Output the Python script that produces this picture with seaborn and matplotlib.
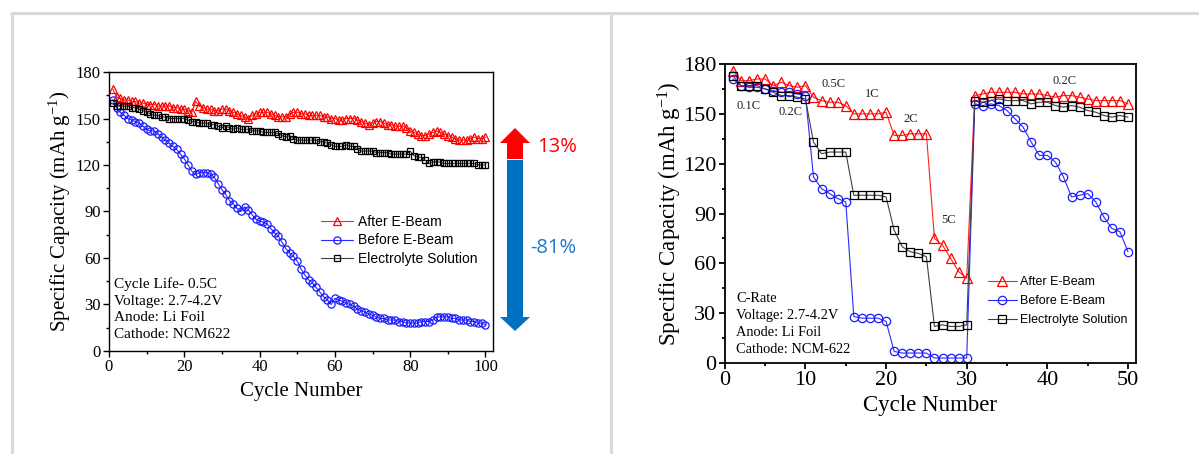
import matplotlib
matplotlib.use("Agg")
import matplotlib.pyplot as plt
import seaborn as sns
from matplotlib.patches import FancyArrow
from matplotlib.lines import Line2D
from matplotlib.transforms import IdentityTransform
from matplotlib.ticker import MultipleLocator

# ---- cycle life data (0.5C, 100 cycles) ----
cycles_life = list(range(1, 101))
after_life = [169, 164, 163, 162, 162, 161, 161, 160, 160, 159,
              159, 159, 158, 158, 158, 158, 157, 157, 156, 156,
              155, 154, 161, 158, 157, 156, 156, 155, 155, 156,
              156, 155, 154, 153, 152, 151, 150, 152, 153, 154,
              154, 154, 153, 152, 151, 151, 151, 153, 154, 154,
              153, 153, 152, 152, 152, 152, 151, 151, 150, 150,
              149, 149, 150, 150, 150, 149, 148, 147, 146, 147,
              148, 148, 147, 146, 146, 145, 145, 145, 144, 142,
              141, 140, 139, 139, 140, 141, 142, 141, 140, 139,
              138, 137, 136, 136, 136, 137, 138, 137, 137, 138]
before_life = [162, 157, 154, 152, 150, 149, 148, 147, 145, 143,
               142, 142, 140, 138, 136, 134, 132, 130, 127, 124,
               120, 116, 114, 115, 115, 115, 114, 112, 108, 104,
               101, 97, 95, 92, 90, 93, 91, 88, 85, 84,
               83, 82, 79, 76, 74, 70, 66, 63, 61, 58,
               53, 49, 46, 44, 41, 38, 35, 33, 30, 34,
               33, 32, 31, 30, 29, 27, 26, 25, 24, 23,
               22, 21, 21, 20, 20, 20, 19, 19, 18, 18,
               18, 18, 19, 19, 19, 20, 22, 22, 22, 22,
               21, 21, 20, 20, 20, 19, 19, 18, 18, 17]
electrolyte_life = [160, 158, 158, 158, 158, 157, 157, 156, 155, 154,
                    153, 152, 152, 151, 151, 150, 150, 150, 150, 150,
                    149, 148, 148, 147, 147, 147, 146, 146, 145, 144,
                    145, 144, 143, 144, 143, 143, 143, 142, 142, 142,
                    141, 141, 141, 141, 140, 139, 138, 139, 137, 136,
                    136, 136, 136, 136, 136, 135, 135, 134, 133, 132,
                    132, 132, 133, 132, 132, 130, 129, 129, 129, 129,
                    128, 128, 128, 128, 127, 127, 127, 127, 127, 129,
                    126, 125, 125, 123, 121, 122, 122, 122, 121, 121,
                    121, 121, 121, 121, 121, 121, 121, 120, 120, 120]

# ---- C-rate data (50 cycles) ----
cycles_rate = list(range(1, 51))
after_rate = [176, 170, 170, 171, 171, 167, 169, 167, 166, 167,
              160, 158, 157, 157, 155, 150, 150, 150, 150, 151,
              137, 137, 138, 138, 138, 75, 71, 63, 55, 51,
              161, 162, 163, 163, 163, 163, 162, 162, 162, 161,
              160, 161, 161, 160, 159, 158, 158, 158, 158, 156]
before_rate = [171, 167, 166, 166, 165, 164, 163, 163, 162, 161,
               112, 105, 102, 99, 97, 28, 27, 27, 27, 25,
               7, 6, 6, 6, 6, 3, 3, 3, 3, 3,
               156, 155, 156, 155, 152, 147, 142, 133, 125, 125,
               121, 112, 100, 101, 102, 97, 88, 81, 79, 67]
electrolyte_rate = [173, 167, 167, 167, 165, 163, 161, 161, 160, 159,
                    133, 126, 127, 127, 127, 101, 101, 101, 101, 100,
                    80, 70, 67, 66, 64, 22, 23, 22, 22, 23,
                    158, 157, 158, 159, 158, 158, 158, 156, 157, 157,
                    155, 154, 155, 154, 152, 151, 149, 148, 149, 148]

rate_labels = ["0.1C", "0.2C", "0.5C", "1C", "2C", "5C", "0.2C"]
rate_label_x = [3.0, 8.2, 13.5, 18.3, 23.0, 27.7, 42.1]
rate_label_y = [155, 151, 168, 162, 147, 86, 170]

series_names = ["After E-Beam", "Before E-Beam", "Electrolyte Solution"]
line_colors = ["#ff2020", "#2a2aff", "#404040"]
edge_colors = ["#ff0000", "#1a1aff", "#000000"]
markers = ["^", "o", "s"]

sns.set_theme(style="ticks")
plt.rcParams["font.family"] = ["Liberation Serif", "DejaVu Serif"]
plt.rcParams["mathtext.fontset"] = "custom"
plt.rcParams["mathtext.rm"] = "Liberation Serif"
plt.rcParams["mathtext.it"] = "Liberation Serif:italic"
plt.rcParams["text.color"] = "black"
plt.rcParams["axes.labelcolor"] = "black"
plt.rcParams["xtick.color"] = "black"
plt.rcParams["ytick.color"] = "black"

fig = plt.figure(figsize=(11.99, 4.54), dpi=100)
ax1 = fig.add_axes([0.0909, 0.2269, 0.3203, 0.6145])
ax2 = fig.add_axes([0.6045, 0.2004, 0.3430, 0.6586])


def draw_series(ax, x, ys, sizes):
    for y, name, lc, ec, m, ms in zip(ys, series_names, line_colors, edge_colors, markers, sizes):
        sns.lineplot(x=x, y=y, ax=ax, color=lc, linewidth=0.8, marker=m,
                     markersize=ms, markerfacecolor="none", markeredgecolor=ec,
                     markeredgewidth=0.9, label=name)


def style_axes(ax, xmax, xmaj, xmin, tick_size, label_size, spine_w, xpad, ypad):
    ax.set_xlim(0, xmax)
    ax.set_ylim(0, 180)
    ax.xaxis.set_major_locator(MultipleLocator(xmaj))
    ax.xaxis.set_minor_locator(MultipleLocator(xmin))
    ax.yaxis.set_major_locator(MultipleLocator(30))
    ax.yaxis.set_minor_locator(MultipleLocator(15))
    ax.tick_params(which="major", direction="out", length=4, width=spine_w,
                   labelsize=tick_size, colors="black", pad=2)
    ax.tick_params(which="minor", direction="out", length=2.5, width=spine_w)
    ax.tick_params(left=True, bottom=True, top=False, right=False)
    for s in ax.spines.values():
        s.set_visible(True)
        s.set_linewidth(spine_w)
        s.set_color("black")
    ax.set_xlabel("Cycle Number", fontsize=label_size, labelpad=xpad)
    ax.set_ylabel(r"Specific Capacity (mAh g$^{-1}$)", fontsize=label_size, labelpad=ypad)


# ---- left: cycle life ----
draw_series(ax1, cycles_life, [after_life, before_life, electrolyte_life], [5.8, 5.2, 4.6])
style_axes(ax1, 102, 20, 10, 12, 15, 1.0, 5, 2)
ax1.legend(loc="upper left", bbox_to_anchor=(0.552, 0.488), frameon=False,
           prop={"family": "Liberation Sans", "size": 10}, handlelength=2.3,
           handletextpad=0.35, labelspacing=0.33, borderpad=0, borderaxespad=0)
ax1.text(0.013, 0.15, "Cycle Life- 0.5C\nVoltage: 2.7-4.2V\nAnode: Li Foil\nCathode: NCM622",
         transform=ax1.transAxes, ha="left", va="center", fontsize=11, linespacing=1.37)

# ---- right: C-rate ----
draw_series(ax2, cycles_rate, [after_rate, before_rate, electrolyte_rate], [7.2, 6.0, 6.0])
style_axes(ax2, 51, 10, 5, 16, 16.5, 1.3, 3, -1)
ax2.legend(loc="upper left", bbox_to_anchor=(0.64, 0.29), frameon=False,
           prop={"family": "Liberation Sans", "size": 9}, handlelength=2.3,
           handletextpad=0.25, labelspacing=0.55, borderpad=0, borderaxespad=0)
ax2.text(0.027, 0.13, "C-Rate\nVoltage: 2.7-4.2V\nAnode: Li Foil\nCathode: NCM-622",
         transform=ax2.transAxes, ha="left", va="center", fontsize=10.4, linespacing=1.4)
for lab, lx, ly in zip(rate_labels, rate_label_x, rate_label_y):
    ax2.text(lx, ly, lab, ha="center", va="center", fontsize=9, color="#222222")

# ---- capacity change arrow (pixel coordinates) ----
px = IdentityTransform()
fig.add_artist(FancyArrow(515, 295, 0, 31, width=16, head_width=30, head_length=15,
                          length_includes_head=True, color="#ff0000", lw=0, transform=px))
fig.add_artist(FancyArrow(515, 294, 0, -171, width=16, head_width=30, head_length=14,
                          length_includes_head=True, color="#0070c0", lw=0, transform=px))
fig.text(537, 307, "13%", transform=px, ha="left", va="center", color="#ff0000",
         fontsize=14.5, family=["Open Sans", "DejaVu Sans"])
fig.text(530, 206, "-81%", transform=px, ha="left", va="center", color="#1f78c8",
         fontsize=14.5, family=["Open Sans", "DejaVu Sans"])

# ---- light gray page frame ----
frame_kw = dict(color="#d9d9d9", linewidth=2.2, transform=px, solid_capstyle="butt")
fig.add_artist(Line2D([10, 1199], [441, 441], **frame_kw))
fig.add_artist(Line2D([11.5, 11.5], [0, 442], **frame_kw))
fig.add_artist(Line2D([611, 611], [0, 442], **frame_kw))

fig.savefig("out.png", dpi=100)
